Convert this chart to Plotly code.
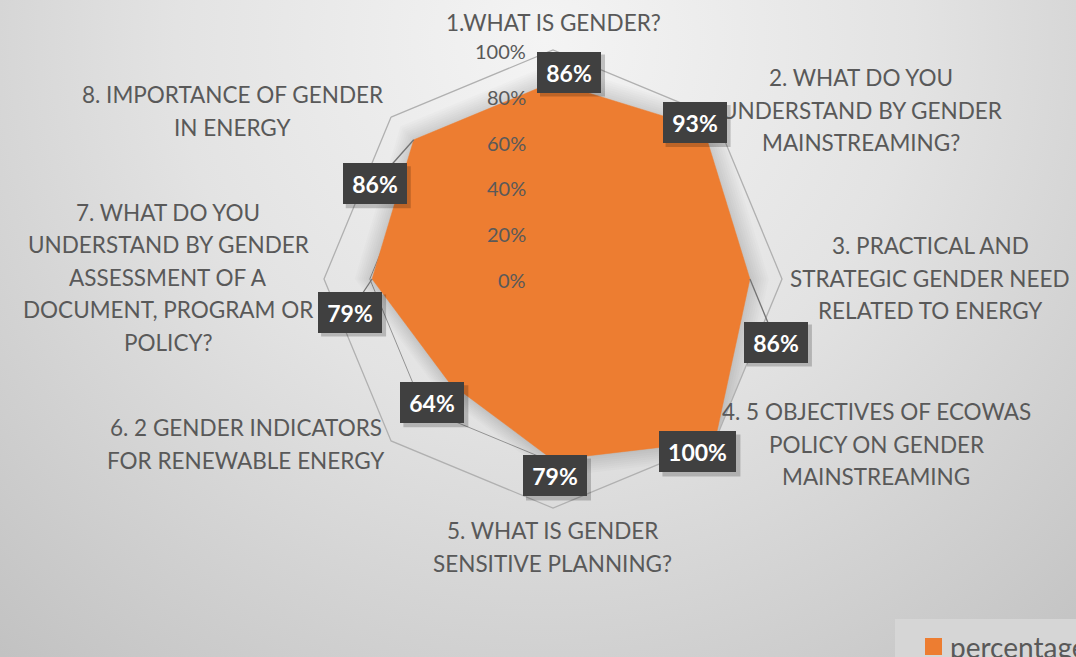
import base64
import math
import plotly.graph_objects as go

# ---------------- data ----------------
categories = [
    "1.WHAT IS GENDER?",
    "2. WHAT DO YOU UNDERSTAND BY GENDER MAINSTREAMING?",
    "3. PRACTICAL AND STRATEGIC GENDER NEED RELATED TO ENERGY",
    "4. 5 OBJECTIVES OF ECOWAS POLICY ON GENDER MAINSTREAMING",
    "5. WHAT IS GENDER SENSITIVE PLANNING?",
    "6. 2 GENDER INDICATORS FOR RENEWABLE ENERGY",
    "7. WHAT DO YOU UNDERSTAND BY GENDER ASSESSMENT OF A DOCUMENT, PROGRAM OR POLICY?",
    "8. IMPORTANCE OF GENDER IN ENERGY",
]
category_lines = [
    ["1.WHAT IS GENDER?"],
    ["2. WHAT DO YOU", "UNDERSTAND BY GENDER", "MAINSTREAMING?"],
    ["3. PRACTICAL AND", "STRATEGIC GENDER NEED", "RELATED TO ENERGY"],
    ["4. 5 OBJECTIVES OF ECOWAS", "POLICY ON GENDER", "MAINSTREAMING"],
    ["5. WHAT IS GENDER", "SENSITIVE PLANNING?"],
    ["6. 2 GENDER INDICATORS", "FOR RENEWABLE ENERGY"],
    ["7. WHAT DO YOU", "UNDERSTAND BY GENDER", "ASSESSMENT OF A",
     "DOCUMENT, PROGRAM OR", "POLICY?"],
    ["8. IMPORTANCE OF GENDER", "IN ENERGY"],
]
percentage = [86, 93, 86, 100, 79, 64, 79, 86]
series_name = "percentage"
radial_ticks = [0, 20, 40, 60, 80, 100]
radial_ticktext = ["0%", "20%", "40%", "60%", "80%", "100%"]

# ---------------- layout constants ----------------
W, H = 1076, 657
CX, CY, R = 553, 279, 229
ORANGE = "#ED7D31"
TEXT = "#595959"
FONT = "Lato"
LINE_H = 32.5

# category label centres (pixels)
cat_label_pos = [(553, 22), (861, 110), (930, 278), (876, 444),
                 (552, 547), (246, 444), (168, 277), (232, 111)]
# data label offsets from vertex (pixels)
label_dx = [16, -9, 26, -17, 2, -17, -22, -39]
label_dy = [-10, -6, 63, 11, 16, 20, 33, 44]


def fx(x):
    return x / W


def fy(y):
    return 1 - y / H


def vertex(i, v):
    ang = math.radians(i * 360 / len(categories))
    r = R * v / 100
    return CX + r * math.sin(ang), CY - r * math.cos(ang)


fig = go.Figure()

# soft shadow around the filled area
for k in range(8, 0, -1):
    s = 1 + 0.012 * k
    fig.add_trace(go.Scatterpolar(
        r=[v * s for v in percentage] + [percentage[0] * s],
        theta=categories + [categories[0]],
        mode="lines", fill="toself", line=dict(width=0),
        fillcolor="rgba(0,0,0,0.016)", hoverinfo="skip", showlegend=False))

fig.add_trace(go.Scatterpolar(
    r=percentage + [percentage[0]],
    theta=categories + [categories[0]],
    mode="lines", fill="toself", name=series_name,
    line=dict(color=ORANGE, width=0.5), fillcolor=ORANGE, showlegend=False))

shapes = []
annotations = []

# radial tick labels (left of the vertical axis)
for t, tt in zip(radial_ticks, radial_ticktext):
    annotations.append(dict(
        text=tt, x=fx(CX - 25), y=fy(CY - R * t / 100 + 1), xref="paper", yref="paper",
        xanchor="right", yanchor="middle", showarrow=False,
        font=dict(family=FONT, size=20, color=TEXT)))

# category labels, one annotation per line for Excel-like line spacing
for lines, (x, y) in zip(category_lines, cat_label_pos):
    n = len(lines)
    for j, line in enumerate(lines):
        ly = y + (j - (n - 1) / 2) * LINE_H
        annotations.append(dict(
            text=line, x=fx(x), y=fy(ly), xref="paper", yref="paper",
            xanchor="center", yanchor="middle", align="center", showarrow=False,
            font=dict(family=FONT, size=22.5, color=TEXT)))

# data labels with leader lines and shadows
for i, v in enumerate(percentage):
    vx, vy = vertex(i, v)
    lx, ly = vx + label_dx[i], vy + label_dy[i]
    bw = 77 if v >= 100 else 64
    bh = 41
    if math.hypot(label_dx[i], label_dy[i]) > 25:
        shapes.append(dict(type="line", xref="paper", yref="paper",
                           x0=fx(vx), y0=fy(vy), x1=fx(lx), y1=fy(ly),
                           line=dict(color="#737373", width=1.3), layer="above"))
    shapes.append(dict(type="rect", xref="paper", yref="paper",
                       x0=fx(lx - bw / 2 + 3), x1=fx(lx + bw / 2 + 4),
                       y0=fy(ly + bh / 2 + 4), y1=fy(ly - bh / 2 + 3),
                       fillcolor="rgba(0,0,0,0.2)", line=dict(width=0), layer="above"))
    annotations.append(dict(
        text=f"<b>{v}%</b>", x=fx(lx), y=fy(ly), xref="paper", yref="paper",
        xanchor="center", yanchor="middle", showarrow=False,
        width=bw, height=bh, borderpad=0, borderwidth=0, bgcolor="#404040",
        font=dict(family=FONT, size=23, color="white")))

# legend (partly cut off at the bottom-right edge, as in the reference)
shapes.append(dict(type="rect", xref="paper", yref="paper",
                   x0=fx(895), x1=fx(1090), y0=fy(680), y1=fy(619),
                   fillcolor="#d6d6d6", line=dict(width=0), layer="above"))
shapes.append(dict(type="rect", xref="paper", yref="paper",
                   x0=fx(925), x1=fx(942), y0=fy(655), y1=fy(638),
                   fillcolor=ORANGE, line=dict(width=0), layer="above"))
annotations.append(dict(
    text=series_name, x=fx(948), y=fy(647), xref="paper", yref="paper",
    xanchor="left", yanchor="middle", showarrow=False,
    font=dict(family=FONT, size=28, color=TEXT)))

# background gradient
svg = f'''<svg xmlns="http://www.w3.org/2000/svg" width="{W}" height="{H}">
<defs><radialGradient id="g" gradientUnits="userSpaceOnUse" cx="545" cy="40" r="820">
<stop offset="0" stop-color="#f4f4f4"/>
<stop offset="0.45" stop-color="#e3e3e3"/>
<stop offset="1" stop-color="#c2c2c2"/>
</radialGradient></defs>
<rect width="{W}" height="{H}" fill="url(#g)"/></svg>'''
bg_src = "data:image/svg+xml;base64," + base64.b64encode(svg.encode()).decode()

fig.update_layout(
    width=W, height=H,
    margin=dict(l=0, r=0, t=0, b=0),
    paper_bgcolor="#dcdcdc",
    plot_bgcolor="rgba(0,0,0,0)",
    showlegend=False,
    images=[dict(source=bg_src, xref="paper", yref="paper", x=0, y=1,
                 sizex=1, sizey=1, xanchor="left", yanchor="top",
                 sizing="stretch", layer="below")],
    polar=dict(
        domain=dict(x=[fx(CX - R), fx(CX + R)], y=[fy(CY + R), fy(CY - R)]),
        bgcolor="rgba(0,0,0,0)",
        gridshape="linear",
        radialaxis=dict(
            range=[0, 100], tickvals=radial_ticks,
            showticklabels=False, angle=90,
            showline=False, ticks="", showgrid=True,
            gridcolor="#939393", gridwidth=1.3,
            layer="above traces"),
        angularaxis=dict(
            categoryarray=categories, type="category",
            direction="clockwise", rotation=90,
            showticklabels=False, ticks="", showgrid=False,
            showline=True, linecolor="#b0b0b0", linewidth=1.3),
    ),
    shapes=shapes,
    annotations=annotations,
)

fig.write_html("out.html", config={"displayModeBar": False},
               post_script="document.body.style.margin='0';document.body.style.overflow='hidden';")
